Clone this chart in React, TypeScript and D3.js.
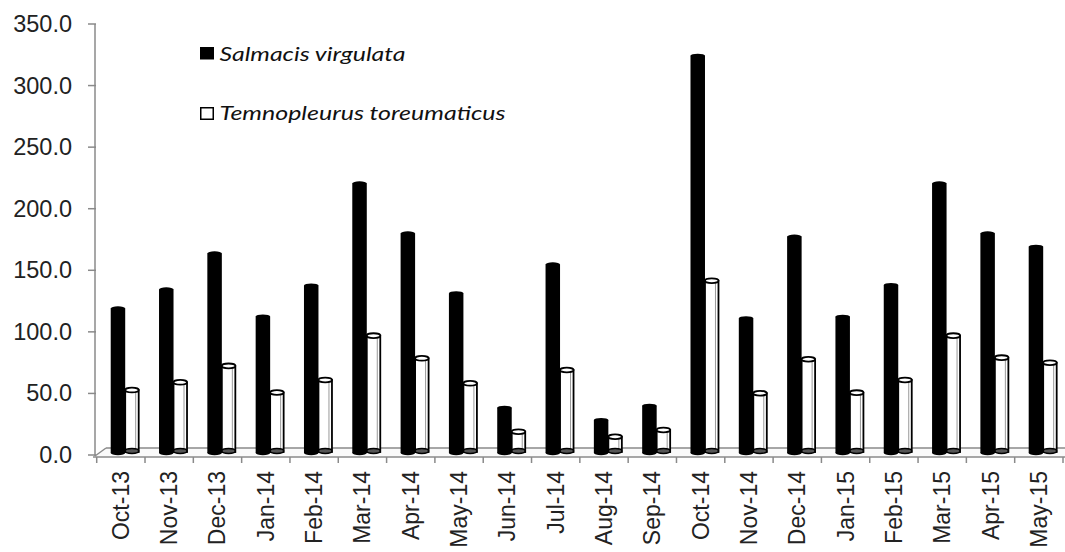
import React from "react";
import * as d3 from "d3";

const categories = ["Oct-13","Nov-13","Dec-13","Jan-14","Feb-14","Mar-14","Apr-14","May-14","Jun-14","Jul-14","Aug-14","Sep-14","Oct-14","Nov-14","Dec-14","Jan-15","Feb-15","Mar-15","Apr-15","May-15"];
const salmacis = [116.7,132.1,161.3,110.1,135.2,218.2,177.6,128.9,36.0,152.4,26.0,37.6,321.8,108.6,174.9,109.9,135.6,218.2,177.6,166.7];
const temnopleurus = [50.3,56.6,69.9,48.3,58.5,94.5,76.1,55.8,16.5,66.6,12.4,17.9,139.1,47.7,75.3,48.2,58.5,94.5,76.6,72.5];
const yTicks = [0,50,100,150,200,250,300,350];
const seriesNames = ["Salmacis virgulata","Temnopleurus toreumaticus"];

export default function App() {
  const W = 1065, H = 552;
  const y = d3.scaleLinear().domain([0, 350]).range([455, 24]);
  const x = d3.scaleBand<string>().domain(categories).range([96.7, 1063]).paddingInner(0).paddingOuter(0);
  const bw = x.bandwidth();
  const barW = bw * 0.3;
  const depthDy = -3;
  const base = y(0) + depthDy;
  const axisColor = "#8a8a8a";
  const fmt = d3.format(".1f");

  return (
    <svg width={W} height={H} style={{ position: "absolute", left: 0, top: 0, background: "#fff" }}>
      {/* floor */}
      <polygon points={`95,457 1065,457 1065,448 106,448`} fill="#fafafa" stroke="none" />
      <line x1={106} y1={448} x2={1065} y2={448} stroke={axisColor} strokeWidth={1.5} />
      <line x1={95} y1={456} x2={106} y2={448} stroke={axisColor} strokeWidth={1.5} />
      <line x1={93} y1={457} x2={1065} y2={457} stroke={axisColor} strokeWidth={1.5} />
      {/* y axis */}
      <line x1={95} y1={y(350)} x2={95} y2={456} stroke={axisColor} strokeWidth={1.5} />
      {yTicks.map((t) => (
        <g key={t}>
          <line x1={88} x2={96} y1={y(t)} y2={y(t)} stroke={axisColor} strokeWidth={1.5} />
          <text x={72} y={y(t)} textAnchor="end" dominantBaseline="central"
            fontFamily="Liberation Sans, Arial, sans-serif" fontSize={23.5} fill="#222">{fmt(t)}</text>
        </g>
      ))}
      {/* x ticks */}
      {categories.concat(["__end"]).map((c, i) => {
        const xx = 96.7 + i * bw;
        return <line key={c} x1={xx} x2={xx} y1={457} y2={463} stroke={axisColor} strokeWidth={1.5} />;
      })}
      {/* bars */}
      {categories.map((c, i) => {
        const x0 = (x(c) as number) + bw * 0.29;
        const x1 = x0 + barW;
        const tb = y(salmacis[i]) + depthDy;
        const tw = y(temnopleurus[i]) + depthDy;
        return (
          <g key={c}>
            <rect x={x0} y={tb} width={barW} height={base - tb + 1} fill="#000" />
            <ellipse cx={x0 + barW / 2} cy={tb} rx={barW / 2} ry={2} fill="#000" />
            <ellipse cx={x0 + barW / 2} cy={base + 1} rx={barW / 2} ry={2.2} fill="#000" />
            <rect x={x1} y={tw} width={barW - 1} height={base - tw} fill="#fff" stroke="#000" strokeWidth={1.8} />
            <line x1={x1 + barW - 4} x2={x1 + barW - 4} y1={tw + 2} y2={base - 2} stroke="#999" strokeWidth={1} />
            <ellipse cx={x1 + (barW - 1) / 2} cy={tw} rx={(barW - 1) / 2} ry={2.4} fill="#fff" stroke="#000" strokeWidth={1.8} />
            <ellipse cx={x1 + (barW - 1) / 2} cy={base - 1} rx={(barW - 1) / 2} ry={2.4} fill="#555" stroke="#000" strokeWidth={1.5} />
          </g>
        );
      })}
      {/* x labels */}
      {categories.map((c) => {
        const cx = (x(c) as number) + bw / 2;
        return (
          <text key={c} transform={`translate(${cx},471) rotate(-90)`} textAnchor="end" dominantBaseline="central"
            fontFamily="Liberation Sans, Arial, sans-serif" fontSize={23} fill="#222">{c}</text>
        );
      })}
      {/* legend */}
      <rect x={200} y={47} width={14} height={12.5} fill="#000" />
      <text x={219.5} y={53.5} dominantBaseline="central" fontFamily="Lato, Open Sans, sans-serif" fontStyle="italic"
        fontSize={18.5} fill="#111" textLength={186} lengthAdjust="spacingAndGlyphs">{seriesNames[0]}</text>
      <rect x={200.75} y={107.75} width={12.5} height={11.5} fill="#fff" stroke="#000" strokeWidth={1.5} />
      <text x={219.5} y={113} dominantBaseline="central" fontFamily="Lato, Open Sans, sans-serif" fontStyle="italic"
        fontSize={18.5} fill="#111" textLength={286} lengthAdjust="spacingAndGlyphs">{seriesNames[1]}</text>
    </svg>
  );
}
